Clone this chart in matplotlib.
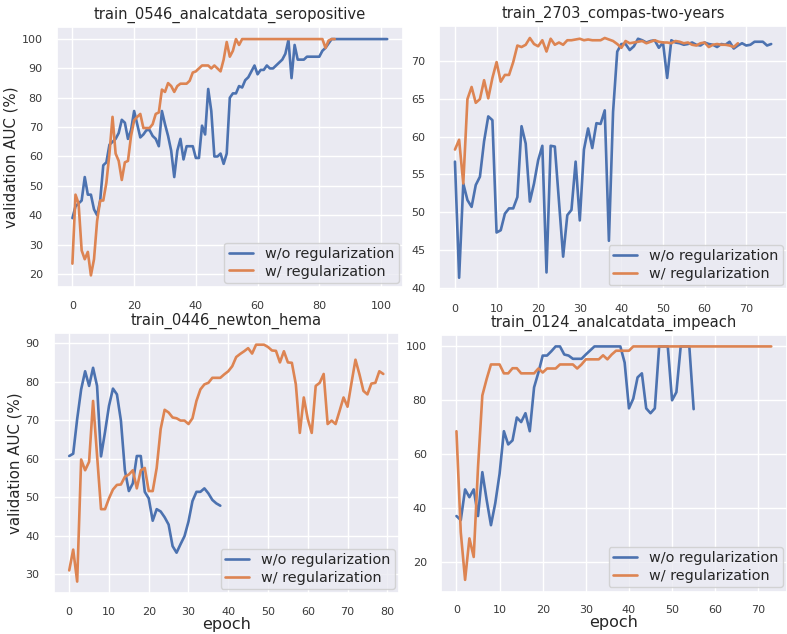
#!/usr/bin/env python3
"""Validation AUC per epoch, with and without regularization, on four datasets."""

import matplotlib

matplotlib.use("Agg")
import matplotlib.pyplot as plt
import seaborn as sns
from matplotlib.ticker import MultipleLocator

# train_0546_analcatdata_seropositive
sero_plain = [
    39, 43, 44, 45, 53, 47, 47, 42, 40, 45,
    57, 58, 64, 65, 66, 68, 72.5, 71.5, 66, 69,
    75.5, 71, 66.5, 67.5, 69, 69, 67, 66, 63.5, 75.5,
    71, 67, 62, 53, 62, 66, 59, 63.5, 63.5, 63.5,
    59.5, 59.5, 70.5, 67.5, 83, 75.5, 60, 60, 61, 57.5,
    61, 80, 81.5, 81.5, 84, 83.5, 86, 87, 89, 91,
    88, 89.5, 89.5, 91, 90, 90, 91, 92, 93, 95,
    99.7, 86.7, 98, 93, 93, 93, 94, 94, 94, 94,
    94, 96, 97, 98.5, 100, 100, 100, 100, 100, 100,
    100, 100, 100, 100, 100, 100, 100, 100, 100, 100,
    100, 100, 100,
]
sero_reg = [
    23.5, 47, 44, 28, 25, 27.5, 19.5, 25, 38, 45,
    45, 51, 61, 73.5, 61, 58.5, 52, 58, 58.5, 67,
    72.3, 73.5, 74.5, 69.7, 69.7, 69.7, 71, 74.5, 75, 82.8,
    82, 85, 84, 82, 84, 84.8, 84.8, 84.8, 85.8, 88.6,
    89, 90, 91, 91, 91, 90, 91, 90, 89, 93,
    99, 94, 96, 100, 98, 100, 100, 100, 100, 100,
    100, 100, 100, 100, 100, 100, 100, 100, 100, 100,
    100, 100, 100, 100, 100, 100, 100, 100, 100, 100,
    100, 100, 97, 99.5, 100, 100,
]

# train_2703_compas-two-years
compas_plain = [
    56.7, 41.3, 53.8, 51.6, 50.7, 53.6, 54.7, 59.4, 62.7, 62.2,
    47.3, 47.6, 49.8, 50.5, 50.5, 52, 61.4, 59.1, 51.4, 53.8,
    56.9, 58.8, 42, 58.8, 58.7, 51.4, 44.1, 49.6, 50.3, 56.7,
    48.9, 58.3, 61.1, 58.5, 61.8, 61.7, 63.5, 46.2, 63.3, 71.3,
    72.3, 72.3, 71.5, 72, 73, 72.8, 72.5, 72.7, 72.8, 71.8,
    72.5, 67.8, 72.8, 72.5, 72.4, 72.2, 72.3, 72.5, 72.2, 72.1,
    72.5, 72.3, 72.2, 71.9, 72.3, 72.2, 72.6, 71.7, 72.1, 72.4,
    72.1, 72.2, 72.6, 72.6, 72.6, 72.1, 72.3,
]
compas_reg = [
    58.3, 59.6, 53.8, 65, 66.6, 64.5, 65, 67.5, 65.1, 67.8,
    69.9, 67.3, 68.2, 68.2, 69.9, 72.1, 71.9, 72.2, 73.1, 72.3,
    72, 72.8, 71.3, 73, 72.2, 72.5, 72.2, 72.8, 72.8, 72.9,
    73, 72.8, 72.9, 72.8, 72.8, 72.8, 73.1, 72.9, 72.7, 72.3,
    71.8, 72.7, 72.4, 72.5, 72.6, 72.7, 72.4, 72.6, 72.8, 72.6,
    72.5, 72.5, 72.4, 72.7, 72.6, 72.4, 72.5, 72.2, 72.1, 72.4,
    72.5, 71.9, 72.2, 72.3, 72.2, 72.2, 72.1, 71.9, 72.4,
]

# train_0446_newton_hema
hema_plain = [
    60.7, 61.3, 70.3, 78, 82.7, 78.9, 83.6, 78.9, 60.6, 66.9,
    73.7, 78.2, 76.7, 69.9, 57, 51.6, 53.6, 60.7, 60.7, 51.4,
    49.7, 43.9, 46.9, 46.3, 44.8, 42.9, 37.3, 35.6, 37.8, 39.9,
    43.7, 49, 51.4, 51.4, 52.3, 51, 49.3, 48.4, 47.8,
]
hema_reg = [
    31, 36.4, 28.1, 59.8, 57, 59.2, 75, 60.9, 46.9, 46.9,
    49.7, 52, 53.2, 53.3, 55.3, 55.9, 57, 52.3, 57, 57.6,
    51.6, 51.6, 57.6, 67.7, 72.7, 72, 70.7, 70.5, 69.9, 69.9,
    69, 70.5, 75, 78, 79.3, 79.7, 81, 81, 81, 81.9,
    82.7, 84, 86.4, 87.2, 87.9, 88.7, 87.3, 89.6, 89.6, 89.6,
    89, 88.1, 88, 85, 87.9, 85, 84.9, 79.3, 66.7, 75.9,
    70.3, 66.7, 78.9, 79.7, 82, 69, 69.9, 69, 72.4, 75.9,
    73.5, 79.7, 85.7, 81.9, 77.6, 76.7, 79.5, 79.7, 82.7, 82,
]

# train_0124_analcatdata_impeach
impeach_plain = [
    37, 35.5, 46.9, 44, 46.9, 37, 53.3, 43, 33.6, 41.8,
    52.7, 68.5, 63.6, 65.1, 73.6, 71.9, 75.2, 68.5, 84.8, 90.3,
    96.6, 96.6, 98.2, 100, 100, 97, 96.6, 95.4, 95.4, 95.4,
    97, 98.5, 100, 100, 100, 100, 100, 100, 100, 94,
    77, 80.6, 88.5, 90, 77, 75.2, 77, 100, 100, 100,
    80, 83, 100, 100, 100, 76.7,
]
impeach_reg = [
    68.5, 31, 13.3, 28.7, 21.8, 55.2, 81.8, 87.9, 93.3, 93.3,
    93.3, 90, 90, 91.9, 91.9, 90, 90, 90, 90, 91.8,
    90.3, 91.8, 91.8, 91.8, 93.3, 93.3, 93.3, 93.3, 91.8, 93.3,
    95.2, 95.2, 95.2, 95.2, 96.7, 95.2, 97, 98.4, 98.4, 98.4,
    98.4, 100, 100, 100, 100, 100, 100, 100, 100, 100,
    100, 100, 100, 100, 100, 100, 100, 100, 100, 100,
    100, 100, 100, 100, 100, 100, 100, 100, 100, 100,
    100, 100, 100, 100,
]

PANELS = [
    # title, plain, reg, axes rect (fig fraction), x step, y step
    ("train_0546_analcatdata_seropositive", sero_plain, sero_reg,
     [0.072, 0.547, 0.440, 0.410], 20, 10),
    ("train_2703_compas-two-years", compas_plain, compas_reg,
     [0.558, 0.543, 0.442, 0.416], 10, 5),
    ("train_0446_newton_hema", hema_plain, hema_reg,
     [0.068, 0.064, 0.439, 0.411], 10, 10),
    ("train_0124_analcatdata_impeach", impeach_plain, impeach_reg,
     [0.560, 0.067, 0.440, 0.405], 10, 20),
]


def draw_panel(fig, title, plain, reg, rect, xstep, ystep, left, bottom):
    ax = fig.add_axes(rect)
    ax.plot(range(len(plain)), plain, color="#4c72b0", linewidth=1.9,
            label="w/o regularization")
    ax.plot(range(len(reg)), reg, color="#dd8452", linewidth=1.9,
            label="w/ regularization")
    ax.xaxis.set_major_locator(MultipleLocator(xstep))
    ax.yaxis.set_major_locator(MultipleLocator(ystep))
    ax.tick_params(labelsize=8, colors="#3a3a3a", pad=4)
    ax.set_title(title, fontsize=10.6, color="#262626", pad=6)
    if left:
        ax.set_ylabel("validation AUC (%)", fontsize=10.8, color="#262626",
                      labelpad=2)
    if bottom:
        ax.set_xlabel("epoch", fontsize=11.5, color="#262626", labelpad=0)
    ax.legend(loc="lower right", fontsize=10.4, handlelength=1.7,
              borderaxespad=0.3, borderpad=0.3, labelspacing=0.25)
    return ax


def main():
    sns.set_theme(style="darkgrid")
    plt.rcParams["font.family"] = ["DejaVu Sans"]
    fig = plt.figure(figsize=(7.87, 6.34), dpi=100)
    for i, (title, plain, reg, rect, xstep, ystep) in enumerate(PANELS):
        draw_panel(fig, title, plain, reg, rect, xstep, ystep,
                   left=(i % 2 == 0), bottom=(i >= 2))
    fig.savefig("out.png", dpi=100)


if __name__ == "__main__":
    main()
